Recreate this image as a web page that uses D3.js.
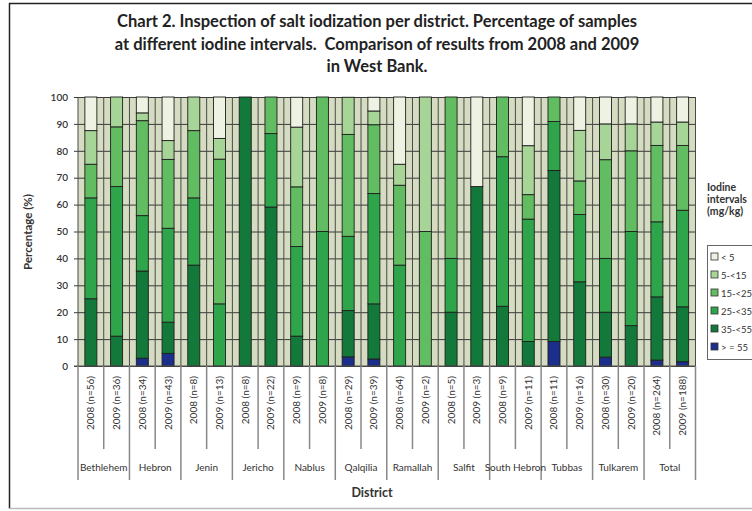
<!DOCTYPE html>
<html>
<head>
<meta charset="utf-8">
<script src="https://cdn.jsdelivr.net/npm/d3@7"></script>
<style>
  body { margin: 0; background: #fff; }
  svg { display: block; font-family: Lato, "Open Sans", sans-serif; }
</style>
</head>
<body>
<div id="chart"></div>
<script>
// year labels on the x axis, one per bar
const yearLabels = ["2008 (n=56)", "2009 (n=36)", "2008 (n=34)", "2009 (n=43)", "2008 (n=8)", "2009 (n=13)",
  "2008 (n=8)", "2009 (n=22)", "2008 (n=9)", "2009 (n=8)", "2008 (n=29)", "2009 (n=39)",
  "2008 (n=64)", "2009 (n=2)", "2008 (n=5)", "2009 (n=3)", "2008 (n=9)", "2009 (n=11)",
  "2008 (n=11)", "2009 (n=16)", "2008 (n=30)", "2009 (n=20)", "2008 (n=264)", "2009 (n=188)"];
const districts = ["Bethlehem", "Hebron", "Jenin", "Jericho", "Nablus", "Qalqilia", "Ramallah",
  "Salfit", "South Hebron", "Tubbas", "Tulkarem", "Total"];

// legend labels, bottom of the stack first
const intervals = ["> = 55", "35-<55", "25-<35", "15-<25", "5-<15", "< 5"];
const colors = ["#1c2e8c", "#13793b", "#2ea54b", "#62bd62", "#a7d598", "#eef2e2"];

// percentage of samples per interval
const ge55   = [0, 0, 2.9, 4.7, 0, 0, 0, 0, 0, 0, 3.4, 2.6, 0, 0, 0, 0, 0, 0, 9.1, 0, 3.3, 0, 2.2, 1.6];
const r35_55 = [25, 11.1, 32.4, 11.6, 37.5, 0, 100, 59.1, 11.1, 0, 17.2, 20.5, 0, 0, 20, 66.7, 22.2, 9.1, 63.6, 31.3, 16.7, 15, 23.5, 20.4];
const r25_35 = [37.5, 55.6, 20.6, 34.9, 25, 23.1, 0, 27.3, 33.3, 50, 27.6, 41.0, 37.5, 0, 20, 0, 55.6, 45.5, 18.2, 25, 20, 35, 27.9, 35.9];
const r15_25 = [12.5, 22.2, 35.3, 25.6, 25, 53.8, 0, 13.6, 22.2, 50, 37.9, 25.6, 29.7, 50, 60, 0, 22.2, 9.1, 9.1, 12.5, 36.7, 30, 28.4, 24.1];
const r5_15  = [12.5, 11.1, 2.9, 7.0, 12.5, 7.7, 0, 0, 22.2, 0, 13.8, 5.1, 7.8, 50, 0, 0, 0, 18.2, 0, 18.8, 13.3, 10, 8.7, 8.7];
const lt5    = [12.5, 0, 5.9, 16.2, 0, 15.4, 0, 0, 11.1, 0, 0, 5.1, 25, 0, 0, 33.3, 0, 18.2, 0, 12.5, 10, 10, 9.3, 9.3];

const yTicks = d3.range(0, 101, 10);

const series = [ge55, r35_55, r25_35, r15_25, r5_15, lt5];
const rows = yearLabels.map((lab, i) => {
  const r = { i: i };
  intervals.forEach((k, j) => r[k] = series[j][i]);
  return r;
});

const width = 752, height = 511;
const plotL = 78, plotR = 695.5, plotT = 97, plotB = 366;

const svg = d3.select("#chart").append("svg")
  .attr("width", width)
  .attr("height", height);

svg.append("rect").attr("width", width).attr("height", height).attr("fill", "#fff");

// outer frame (right side runs off the picture)
svg.append("path")
  .attr("d", `M770,3.5 H9.5 V508.5`)
  .attr("fill", "none").attr("stroke", "#222").attr("stroke-width", 1.5);
svg.append("line").attr("x1", 9.5).attr("x2", 752).attr("y1", 508.5).attr("y2", 508.5)
  .attr("stroke", "#bbb").attr("stroke-width", 1.5);

// title
const titleLines = ["Chart 2. Inspection of salt iodization per district. Percentage of samples",
  "at different iodine intervals.  Comparison of results from 2008 and 2009",
  "in West Bank."];
svg.append("g").selectAll("text")
  .data(titleLines)
  .join("text")
  .attr("x", 377)
  .attr("y", (d, i) => 27 + i * 22.5)
  .attr("text-anchor", "middle")
  .attr("font-size", 16.5)
  .attr("font-weight", "bold")
  .attr("fill", "#222")
  .style("white-space", "pre")
  .text(d => d);

const x = d3.scaleBand()
  .domain(d3.range(yearLabels.length))
  .range([plotL, plotR])
  .paddingInner(0)
  .paddingOuter(0);
const y = d3.scaleLinear().domain([0, 100]).range([plotB, plotT]);
const color = d3.scaleOrdinal().domain(intervals).range(colors);

// plot background
svg.append("rect")
  .attr("x", plotL).attr("y", plotT)
  .attr("width", plotR - plotL).attr("height", plotB - plotT)
  .attr("fill", "#d5dcc1");

// horizontal grid + y axis
const yAxis = svg.append("g")
  .attr("transform", `translate(${plotL},0)`)
  .call(d3.axisLeft(y).tickValues(yTicks).tickSize(-(plotR - plotL)).tickPadding(10))
  .call(g => g.select(".domain").remove());
yAxis.selectAll(".tick line").attr("stroke", "#3a3a3a").attr("stroke-width", 1).attr("x1", -4);
yAxis.selectAll(".tick text").attr("font-size", 10).attr("font-weight", 600)
  .attr("fill", "#333").attr("font-family", "Lato");

// vertical grid at category boundaries
const bounds = d3.range(yearLabels.length + 1).map(k => k < yearLabels.length ? x(k) : plotR);
svg.append("g").selectAll("line")
  .data(bounds)
  .join("line")
  .attr("x1", d => d).attr("x2", d => d)
  .attr("y1", plotT).attr("y2", plotB)
  .attr("stroke", "#4a4a4a").attr("stroke-width", 1);

// stacked bars
const stack = d3.stack().keys(intervals)(rows);
const barW = 12;
svg.append("g")
  .selectAll("g")
  .data(stack)
  .join("g")
  .attr("fill", d => color(d.key))
  .selectAll("rect")
  .data(d => d.filter(s => s[1] - s[0] > 0))
  .join("rect")
  .attr("x", d => x(d.data.i) + x.bandwidth() / 2 - barW / 2)
  .attr("width", barW)
  .attr("y", d => y(Math.min(d[1], 100)))
  .attr("height", d => y(d[0]) - y(Math.min(d[1], 100)))
  .attr("stroke", "#1e1e1e")
  .attr("stroke-width", 0.9);

// x axis line
svg.append("line")
  .attr("x1", plotL - 4).attr("x2", plotR)
  .attr("y1", plotB).attr("y2", plotB)
  .attr("stroke", "#555").attr("stroke-width", 1.2);

// multi-level category separators
svg.append("g").selectAll("line")
  .data(bounds)
  .join("line")
  .attr("x1", d => d).attr("x2", d => d)
  .attr("y1", plotB)
  .attr("y2", (d, k) => k % 2 === 0 ? 480 : 449)
  .attr("stroke", "#888").attr("stroke-width", 1.5);

// year labels, rotated
svg.append("g").selectAll("text")
  .data(yearLabels)
  .join("text")
  .attr("transform", (d, i) => `translate(${x(i) + x.bandwidth() / 2 + 3.5},376) rotate(-90)`)
  .attr("text-anchor", "end")
  .attr("font-size", 10)
  .attr("fill", "#333")
  .text(d => d);

// district labels
svg.append("g").selectAll("text")
  .data(districts)
  .join("text")
  .attr("x", (d, j) => (bounds[2 * j] + bounds[2 * j + 2]) / 2)
  .attr("y", 471)
  .attr("text-anchor", "middle")
  .attr("font-size", 10)
  .attr("fill", "#333")
  .text(d => d);

// axis titles
svg.append("text")
  .attr("x", 372).attr("y", 497)
  .attr("text-anchor", "middle")
  .attr("font-size", 12.5).attr("font-weight", "bold").attr("fill", "#333")
  .text("District");
svg.append("text")
  .attr("transform", "translate(32,232) rotate(-90)")
  .attr("text-anchor", "middle")
  .attr("font-size", 11.5).attr("font-weight", "bold").attr("fill", "#333")
  .text("Percentage (%)");

// legend
const legTitle = ["Iodine", "intervals", "(mg/kg)"];
svg.append("g").selectAll("text")
  .data(legTitle)
  .join("text")
  .attr("x", 707).attr("y", (d, i) => 191 + i * 12)
  .attr("font-size", 10.5).attr("font-weight", "bold").attr("fill", "#333")
  .text(d => d);

svg.append("rect")
  .attr("x", 707.5).attr("y", 245.5)
  .attr("width", 70).attr("height", 114)
  .attr("fill", "#fff").attr("stroke", "#666").attr("stroke-width", 1);

const legItems = intervals.slice().reverse();
const leg = svg.append("g").selectAll("g")
  .data(legItems)
  .join("g")
  .attr("transform", (d, i) => `translate(711,${257 + i * 18})`);
leg.append("rect")
  .attr("x", 0).attr("y", -4).attr("width", 7).attr("height", 7)
  .attr("fill", d => color(d)).attr("stroke", "#333").attr("stroke-width", 0.8);
leg.append("text")
  .attr("x", 10).attr("y", 3.5)
  .attr("font-size", 9.5).attr("fill", "#333")
  .text(d => d);
</script>
</body>
</html>
